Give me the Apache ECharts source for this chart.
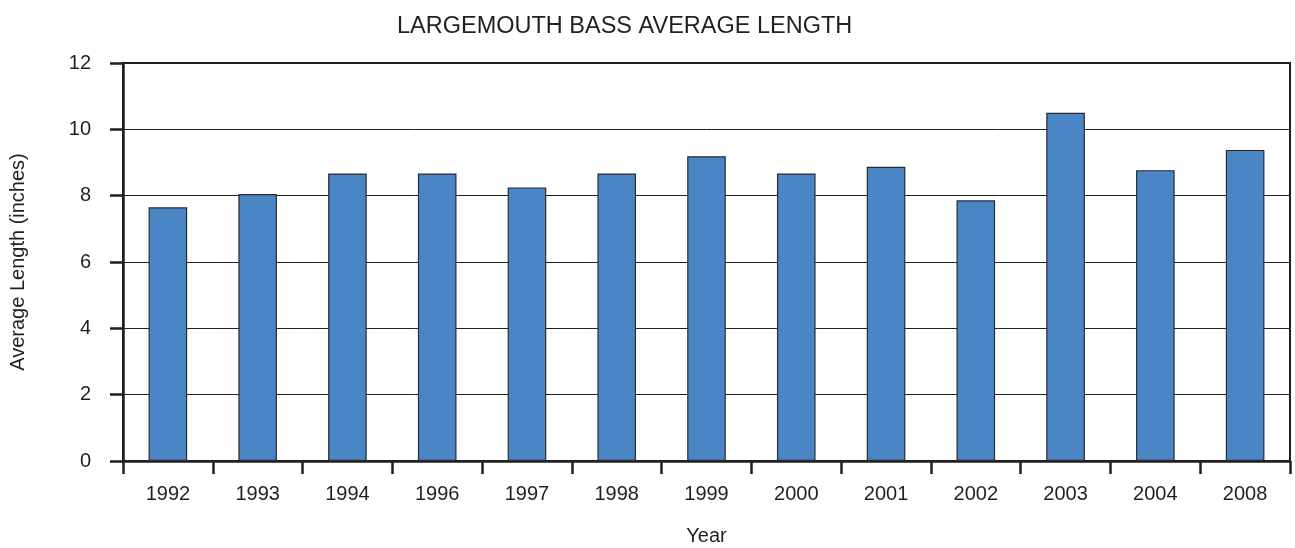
<!DOCTYPE html>
<html>
<head>
<meta charset="utf-8">
<script src="https://cdn.jsdelivr.net/npm/echarts@6/dist/echarts.min.js"></script>
<style>
    html, body { margin: 0; padding: 0; background: #fff; overflow: hidden; }
    #bassChart { width: 100vw; height: 100vh; }
</style>
</head>
<body>
<div id="bassChart"></div>
<script>
// values
const years = ['1992', '1993', '1994', '1996', '1997', '1998', '1999', '2000', '2001', '2002', '2003', '2004', '2008']
const avgLength = [7.65, 8.05, 8.67, 8.67, 8.25, 8.67, 9.19, 8.67, 8.87, 7.86, 10.5, 8.77, 9.38]
const yTicks = [0, 2, 4, 6, 8, 10, 12]

const textColor = '#231f20'
const fontFam = '"Liberation Sans", Arial, sans-serif'

let myChart = echarts.init(document.getElementById('bassChart'))
let option = {
    animation: false,
    backgroundColor: '#fff',
    title: {
        text: 'LARGEMOUTH BASS AVERAGE LENGTH',
        left: 392,
        top: 10,
        textStyle: {
            color: textColor,
            fontFamily: fontFam,
            fontSize: 23.5,
            fontWeight: 'normal',
        },
    },
    grid: {
        left: 123,
        right: 5,
        top: 63,
        bottom: 87,
        outerBoundsMode: 'none',
        show: true,
        borderColor: '#231f20',
        borderWidth: 2,
    },
    xAxis: {
        type: 'category',
        data: years,
        name: 'Year',
        nameLocation: 'middle',
        nameGap: 65,
        nameTextStyle: { color: textColor, fontFamily: fontFam, fontSize: 20 },
        axisLine: { lineStyle: { color: '#231f20', width: 2.5 } },
        axisTick: { show: true, length: 13, lineStyle: { color: '#231f20', width: 2.5 } },
        axisLabel: {
            interval: 0,
            margin: 23,
            color: textColor,
            fontFamily: fontFam,
            fontSize: 20,
        },
    },
    yAxis: {
        type: 'value',
        min: yTicks[0],
        max: yTicks[yTicks.length - 1],
        interval: yTicks[1] - yTicks[0],
        name: 'Average Length (inches)',
        nameLocation: 'middle',
        nameGap: 95,
        nameTextStyle: { color: textColor, fontFamily: fontFam, fontSize: 20 },
        axisLine: { show: true, lineStyle: { color: '#231f20', width: 2.5 } },
        axisTick: { show: true, length: 13, lineStyle: { color: '#231f20', width: 2.5 } },
        axisLabel: {
            margin: 32,
            color: textColor,
            fontFamily: fontFam,
            fontSize: 20,
        },
        splitLine: { show: true, lineStyle: { color: '#231f20', width: 1 } },
    },
    series: [
        {
            name: 'Average Length',
            type: 'bar',
            data: avgLength,
            barWidth: '43%',
            itemStyle: {
                color: '#4a86c6',
                borderColor: '#2b2b2b',
                borderWidth: 1.2,
            },
        },
    ],
}
myChart.setOption(option)
window.addEventListener('resize', function () {
    myChart.resize()
})
</script>
</body>
</html>
